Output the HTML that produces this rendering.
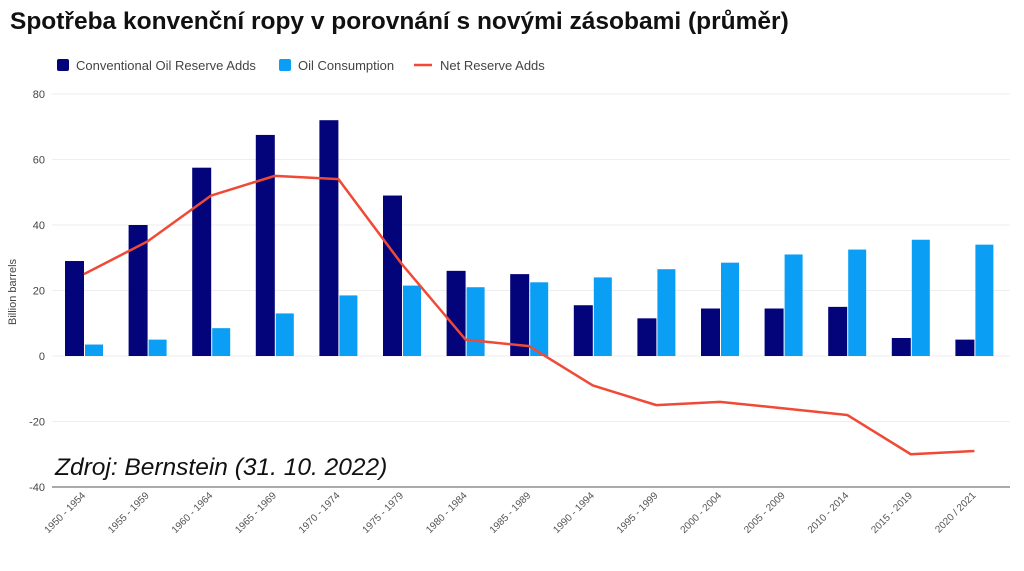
<!DOCTYPE html>
<html><head><meta charset="utf-8"><style>
body{margin:0;background:#fff;width:1024px;height:566px;overflow:hidden;font-family:"Liberation Sans",sans-serif}
</style></head><body>
<svg id="c" width="1024" height="566" xmlns="http://www.w3.org/2000/svg">
<text x="10" y="29" font-size="24.5" font-weight="bold" fill="#111">Spotřeba konvenční ropy v porovnání s novými zásobami (průměr)</text>
<g font-size="13" fill="#444">
<rect x="57" y="59" width="12" height="12" rx="2" fill="#03037a"/>
<text x="76" y="70">Conventional Oil Reserve Adds</text>
<rect x="279" y="59" width="12" height="12" rx="2" fill="#0a9ef5"/>
<text x="298" y="70">Oil Consumption</text>
<line x1="414" y1="65" x2="432" y2="65" stroke="#f04a36" stroke-width="2.5"/>
<text x="440" y="70">Net Reserve Adds</text>
</g>
<text transform="translate(16,292) rotate(-90)" text-anchor="middle" font-size="11" fill="#444">Billion barrels</text>
<g id="grid"></g><g id="bars"></g><g id="line"></g><g id="xl"></g>
<text x="55" y="475" font-size="24.5" font-style="italic" fill="#111">Zdroj: Bernstein (31. 10. 2022)</text>
</svg>
<script>
const categories=["1950 - 1954","1955 - 1959","1960 - 1964","1965 - 1969","1970 - 1974","1975 - 1979","1980 - 1984","1985 - 1989","1990 - 1994","1995 - 1999","2000 - 2004","2005 - 2009","2010 - 2014","2015 - 2019","2020 / 2021"];
const reserveAdds=[29,40,57.5,67.5,72,49,26,25,15.5,11.5,14.5,14.5,15,5.5,5];
const consumption=[3.5,5,8.5,13,18.5,21.5,21,22.5,24,26.5,28.5,31,32.5,35.5,34];
const netAdds=[25,35,49,55,54,28,5,3,-9,-15,-14,-16,-18,-30,-29];
const yTicks=[80,60,40,20,0,-20,-40];
const NS="http://www.w3.org/2000/svg";
const y=v=>356-v*(262/80);
const xc=i=>84+i*63.6;
function mk(t,a,p){const e=document.createElementNS(NS,t);for(const k in a)e.setAttribute(k,a[k]);p.appendChild(e);return e;}
const g=document.getElementById('grid');
yTicks.forEach(v=>{
 const l=mk('line',{x1:52,x2:1010,y1:y(v),y2:y(v),stroke:v===-40?'#777':'#eee','stroke-width':v===-40?1.2:1},g);
 
 
 const t=mk('text',{x:45,y:y(v)+4,'text-anchor':'end','font-size':11,fill:'#444'},g);
 t.textContent=v;
 
 
});
const b=document.getElementById('bars');
categories.forEach((c,i)=>{
 const r=mk('rect',{x:xc(i)-19,y:y(reserveAdds[i]),width:19,height:y(0)-y(reserveAdds[i]),fill:'#03037a'},b);
 
 
 const s=mk('rect',{x:xc(i)+1,y:y(consumption[i]),width:18,height:y(0)-y(consumption[i]),fill:'#0a9ef5'},b);
 
 
 const t=mk('text',{transform:`translate(${xc(i)+2},${496}) rotate(-45)`,'text-anchor':'end','font-size':10,fill:'#555'},document.getElementById('xl'));
 t.textContent=c;
 
 
});
const p=mk('polyline',{points:netAdds.map((v,i)=>xc(i)+','+y(v)).join(' '),fill:'none',stroke:'#f04a36','stroke-width':2.5,'stroke-linejoin':'round'},document.getElementById('line'));


</script>
</body></html>
